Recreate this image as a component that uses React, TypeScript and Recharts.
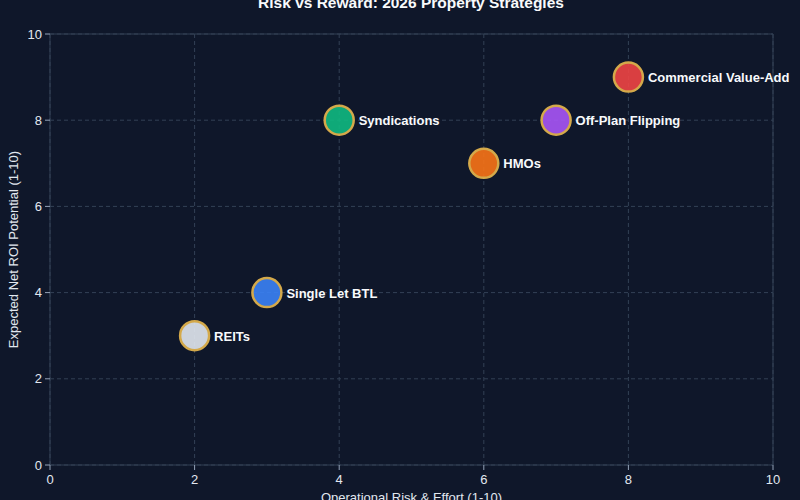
import React from 'react';
import { ScatterChart, Scatter, XAxis, YAxis, CartesianGrid, ReferenceLine, Cell } from 'recharts';

const strategies = ['REITs', 'Single Let BTL', 'Syndications', 'HMOs', 'Off-Plan Flipping', 'Commercial Value-Add'];
const riskValues = [2, 3, 4, 6, 7, 8];
const roiValues = [3, 4, 8, 7, 8, 9];
const colors = ['#e2e8f0', '#3b82f6', '#10b981', '#f97316', '#a855f7', '#ef4444'];
const ticks = [0, 2, 4, 6, 8, 10];

const data = strategies.map((name, i) => ({ name, x: riskValues[i], y: roiValues[i] }));

const FONT = '"Liberation Sans", Arial, sans-serif';

const Bubble = (props: any) => {
  const { cx, cy, fill, payload } = props;
  return (
    <g>
      <circle cx={cx} cy={cy} r={14.5} fill={fill} fillOpacity={0.9} stroke="#d4a94a" strokeWidth={2.5} />
      <text x={cx + 19.5} y={cy} dy="0.38em" fill="#f8fafc" fontSize={13} fontWeight="bold" fontFamily={FONT}>
        {payload.name}
      </text>
    </g>
  );
};

export default function App() {
  return (
    <div style={{ position: 'absolute', left: 0, top: 0, width: 800, height: 500, background: '#0f172a', overflow: 'hidden' }}>
      <ScatterChart width={800} height={500} margin={{ top: 34, right: 27, bottom: 0, left: 0 }} style={{ fontFamily: FONT }}>
        <text x={411} y={8} textAnchor="middle" fill="#f8fafc" fontSize={15.5} fontWeight="bold" fontFamily={FONT}>
          Risk vs Reward: 2026 Property Strategies
        </text>
        <CartesianGrid stroke="#334155" strokeDasharray="4 3" />
        <XAxis
          type="number"
          dataKey="x"
          domain={[0, 10]}
          ticks={ticks}
          height={35}
          stroke="#334155"
          tick={{ fill: '#e2e8f0', fontSize: 13 }}
          tickLine={{ stroke: '#94a3b8' }}
          tickSize={5}
          tickMargin={5}
          label={{ value: 'Operational Risk & Effort (1-10)', position: 'insideBottom', offset: -2, fill: '#e2e8f0', fontSize: 13 }}
        />
        <YAxis
          type="number"
          dataKey="y"
          domain={[0, 10]}
          ticks={ticks}
          width={50}
          stroke="#334155"
          tick={{ fill: '#e2e8f0', fontSize: 13 }}
          tickLine={{ stroke: '#94a3b8' }}
          tickSize={5}
          tickMargin={3}
          label={{ value: 'Expected Net ROI Potential (1-10)', angle: -90, position: 'insideLeft', offset: 13, style: { textAnchor: 'middle' }, fill: '#e2e8f0', fontSize: 13 }}
        />
        <ReferenceLine y={10} stroke="#334155" />
        <ReferenceLine x={10} stroke="#334155" />
        <Scatter data={data} shape={Bubble} isAnimationActive={false}>
          {data.map((d, i) => (
            <Cell key={d.name} fill={colors[i]} />
          ))}
        </Scatter>
      </ScatterChart>
    </div>
  );
}
